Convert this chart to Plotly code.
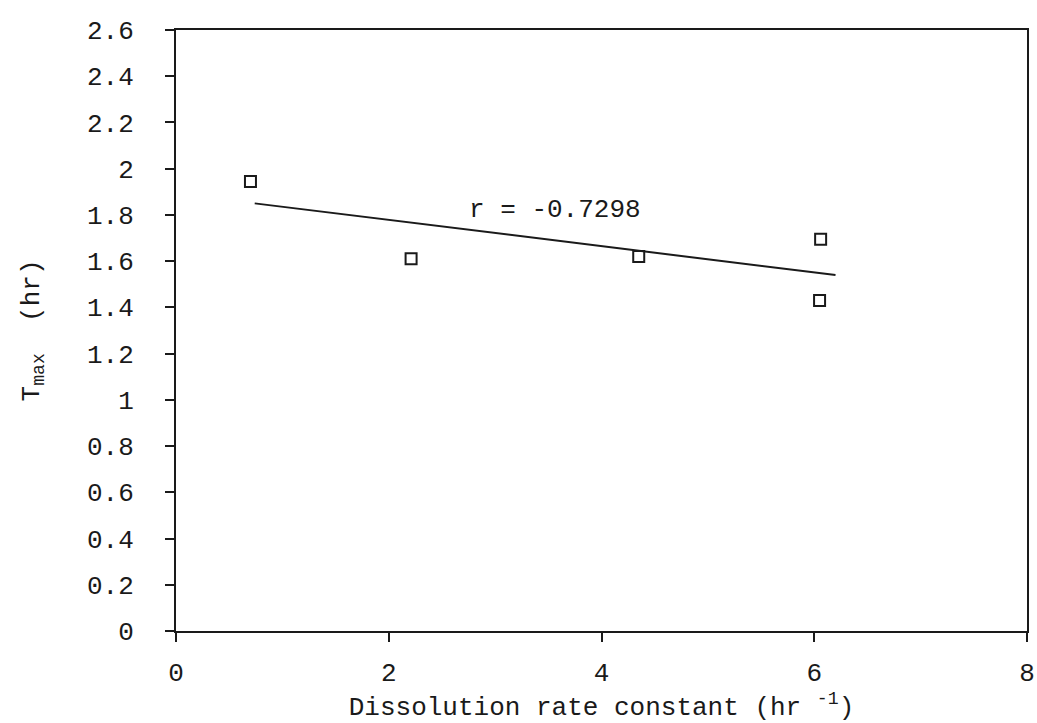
import plotly.graph_objects as go

# Data
dissolution_k = [0.70, 2.21, 4.35, 6.06, 6.05]
tmax_hr = [1.945, 1.61, 1.62, 1.695, 1.43]

# Regression line endpoints as drawn
fit_x = [0.74, 6.20]
fit_y = [1.85, 1.54]

r_label = "r = -0.7298"
r_pos = (3.56, 1.82)

FONT = "Liberation Mono, Courier New, monospace"
INK = "#1a1a1a"
FS = 26

fig = go.Figure()
fig.add_trace(go.Scatter(x=fit_x, y=fit_y, mode="lines",
                         line=dict(color=INK, width=2), showlegend=False))
fig.add_trace(go.Scatter(x=dissolution_k, y=tmax_hr, mode="markers",
                         marker=dict(symbol="square-open", size=11,
                                     line=dict(color=INK, width=2), color=INK),
                         showlegend=False))

fig.add_annotation(x=r_pos[0], y=r_pos[1], text=r_label, showarrow=False,
                   font=dict(family=FONT, size=FS, color=INK))

fig.update_layout(
    width=1037, height=723,
    margin=dict(l=176, r=10, t=30, b=92, autoexpand=False),
    plot_bgcolor="white", paper_bgcolor="white",
    font=dict(family=FONT, size=FS, color=INK),
    showlegend=False,
)
fig.update_xaxes(range=[0, 8], dtick=2, tick0=0, showgrid=False, zeroline=False,
                 showline=True, linewidth=2, linecolor=INK, mirror=True,
                 ticks="outside", ticklen=9, tickwidth=2, tickcolor=INK,
                 ticklabelstandoff=8, ticklabeloverflow="allow",
                 title=dict(text="Dissolution rate constant (hr <sup>-1</sup>)",
                            standoff=2, font=dict(family=FONT, size=FS, color=INK)))
fig.update_yaxes(range=[0, 2.6], dtick=0.2, tick0=0, showgrid=False, zeroline=False,
                 showline=True, linewidth=2, linecolor=INK, mirror=True,
                 ticks="outside", ticklen=9, tickwidth=2, tickcolor=INK,
                 ticklabelstandoff=26, ticklabeloverflow="allow",
                 title=dict(text="T<sub>max</sub>  (hr)", standoff=40,
                            font=dict(family=FONT, size=FS, color=INK)))

fig.write_html("out.html")
